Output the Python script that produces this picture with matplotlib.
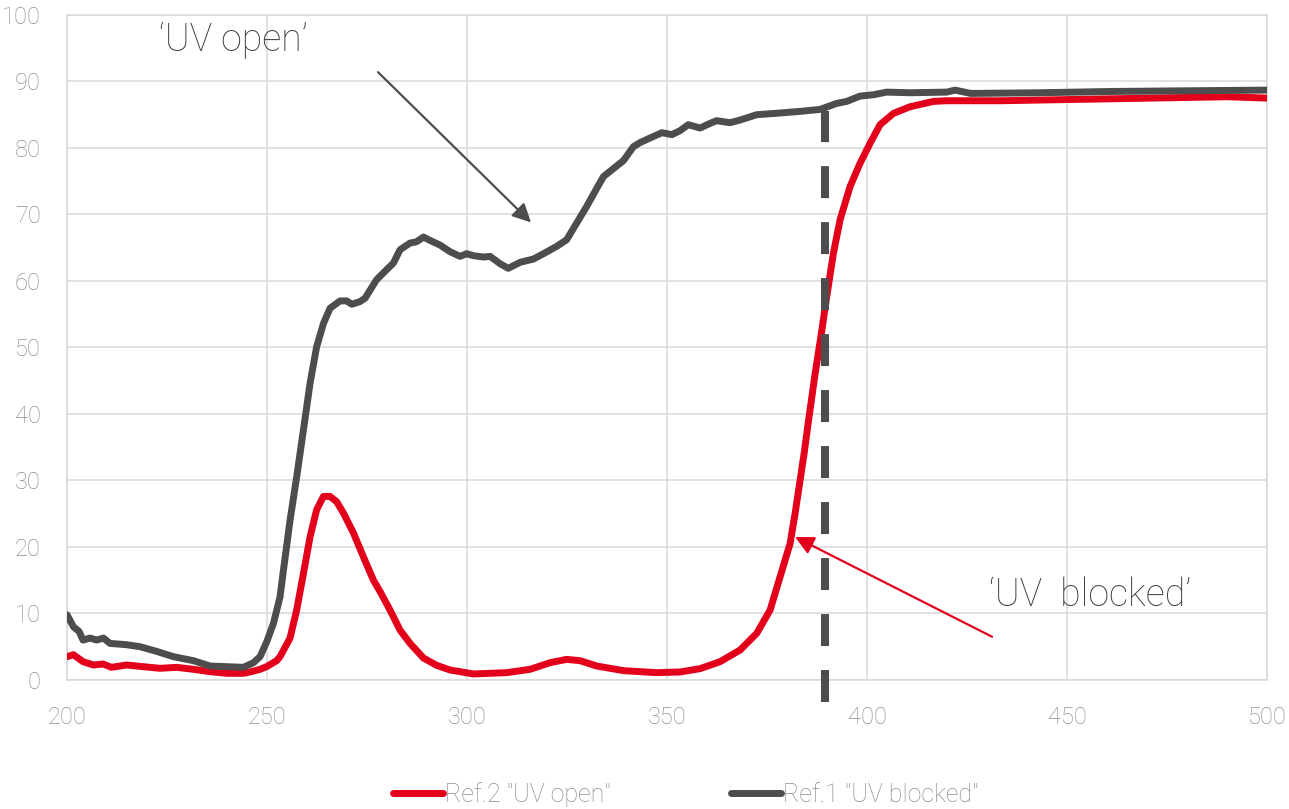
import matplotlib
matplotlib.use("Agg")
import matplotlib.pyplot as plt
from matplotlib.lines import Line2D

plt.rcParams['font.family'] = ['Roboto', 'DejaVu Sans']
plt.rcParams['font.weight'] = 'light'

RED = '#e3001b'
DARK = '#4d4d4d'
GRID = '#d9d9d9'
TICK = '#8f8f8f'

# Ref.1 "UV blocked" transmission (%) vs wavelength (nm)
wl_ref1 = [200, 201.6, 203, 204, 205.75, 207.4, 209.1, 210.75, 214.9, 218.25,
           222.4, 226.6, 231.6, 235.75, 239.9, 244.1, 246.6, 248.25, 249.9, 251.6,
           253.25, 254.1, 255.75, 257.4, 259.1, 260.75, 262.4, 264.1, 265.75, 268.25,
           269.9, 271.2, 273.25, 274.5, 277.4, 279.9, 281.6, 283.25, 285.75, 287.4,
           289.1, 290.75, 293.25, 295.75, 298.25, 299.9, 301.6, 304.1, 305.75, 308.25,
           310.3, 313.25, 316.6, 319.1, 322.4, 324.9, 327.4, 329.9, 332.4, 334.1,
           336.6, 339.1, 341.6, 343.25, 345.75, 348.7, 351.2, 353.25, 355.3, 358.25,
           360.75, 362.4, 365.75, 368.25, 372.4, 377, 383.25, 388.25, 392.4, 394.9,
           398.25, 401.6, 404.9, 410.75, 419.9, 422, 425.9, 442.75, 461.6, 480.4,
           500]
t_ref1 = [9.8, 8.0, 7.3, 6.0, 6.3, 6.0, 6.3, 5.5, 5.3, 5.0,
          4.3, 3.5, 2.9, 2.1, 2.0, 1.9, 2.6, 3.5, 5.7, 8.5,
          12.5, 16.5, 24.0, 30.5, 37.6, 44.6, 50.1, 53.6, 55.9, 57.0,
          57.0, 56.5, 56.9, 57.4, 60.2, 61.7, 62.7, 64.7, 65.7, 65.9,
          66.6, 66.1, 65.4, 64.4, 63.7, 64.1, 63.8, 63.6, 63.7, 62.6,
          61.9, 62.8, 63.3, 64.1, 65.2, 66.2, 68.7, 71.2, 73.9, 75.7,
          76.9, 78.1, 80.2, 80.8, 81.5, 82.3, 82.0, 82.6, 83.5, 83.0,
          83.7, 84.1, 83.8, 84.2, 85.0, 85.2, 85.5, 85.8, 86.7, 87.0,
          87.8, 88.0, 88.4, 88.3, 88.4, 88.7, 88.2, 88.3, 88.5, 88.6,
          88.7]

# Ref.2 "UV open" transmission (%) vs wavelength (nm)
wl_ref2 = [200, 201.6, 204, 206.6, 209, 211.1, 214.9, 219, 223.25, 227.4,
           231.6, 235.75, 239.9, 244.1, 245.75, 248.25, 249.9, 252.4, 253.25, 255.75,
           257.4, 259.1, 260.75, 262.4, 264.1, 265.75, 267.4, 269.1, 271.6, 274.1,
           276.6, 278.25, 280.75, 283.25, 285.75, 289.1, 292.4, 295.75, 301.6, 309.9,
           315.75, 320.75, 324.9, 328.25, 332.4, 339.1, 347.4, 353.25, 358.25, 363.25,
           368.25, 372.4, 375.75, 378, 380.75, 382, 383.25, 384.25, 385.25, 387,
           388.7, 389.9, 391.6, 393.25, 395.75, 398.25, 400.75, 403.25, 406.6, 410.75,
           416.6, 419.9, 433.4, 452, 471, 490, 500]
t_ref2 = [3.5, 3.8, 2.75, 2.25, 2.4, 1.9, 2.25, 2.0, 1.75, 1.9,
          1.6, 1.25, 1.0, 1.0, 1.2, 1.6, 2.0, 2.9, 3.5, 6.3,
          10.5, 16.0, 21.5, 25.6, 27.6, 27.6, 26.8, 25.1, 22.1, 18.5,
          15.0, 13.3, 10.5, 7.5, 5.5, 3.3, 2.2, 1.5, 0.9, 1.1,
          1.6, 2.6, 3.1, 2.9, 2.1, 1.4, 1.1, 1.2, 1.7, 2.75,
          4.5, 7.0, 10.5, 15.0, 20.5, 25.0, 30.0, 34.0, 38.5, 46.0,
          52.6, 57.6, 64.2, 69.2, 74.2, 77.7, 80.7, 83.5, 85.2, 86.2,
          87.0, 87.1, 87.1, 87.3, 87.5, 87.7, 87.5]

# cut-off marker
cutoff_wl = 389.5
cutoff_span = [-3.3, 85.6]

fig = plt.figure(figsize=(12.89, 8.09), dpi=100)
ax = fig.add_axes([0.052, 0.1595, 0.931, 0.822])

ax.plot(wl_ref2, t_ref2, color=RED, lw=5, solid_capstyle='round',
        solid_joinstyle='round', zorder=3)
ax.plot(wl_ref1, t_ref1, color=DARK, lw=5, solid_capstyle='round',
        solid_joinstyle='round', zorder=3)
ax.plot([cutoff_wl, cutoff_wl], cutoff_span, color=DARK, lw=5.8,
        linestyle=(0, (3.97, 2.98)), dash_capstyle='butt', clip_on=False, zorder=4)

ax.set_xlim(200, 500)
ax.set_ylim(0, 100)
ax.set_xticks(range(200, 501, 50))
ax.set_yticks(range(0, 101, 10))
ax.grid(True, color=GRID, lw=1.1)
ax.set_axisbelow(True)
for s in ax.spines.values():
    s.set_color(GRID)
    s.set_linewidth(1.1)
ax.tick_params(length=0, labelsize=17, labelcolor=TICK)
ax.tick_params(axis='y', pad=19)
ax.tick_params(axis='x', pad=19)

ax.text(241.5, 96.2, '\u2018UV open\u2019', fontsize=27, color='#404040',
        ha='center', va='center')
ax.annotate('', xy=(316, 68.8), xytext=(277.75, 91.4),
            arrowprops=dict(arrowstyle='-|>', color=DARK, lw=1.6,
                            mutation_scale=28, shrinkA=0, shrinkB=0))

ax.text(455.75, 12.8, '\u2018UV  blocked\u2019', fontsize=27, color='#404040',
        ha='center', va='center')
ax.annotate('', xy=(382, 21.5), xytext=(431.25, 6.5),
            arrowprops=dict(arrowstyle='-|>', color=RED, lw=1.6,
                            mutation_scale=28, shrinkA=0, shrinkB=0))

handles = [Line2D([], [], color=RED, lw=5, solid_capstyle='round'),
           Line2D([], [], color=DARK, lw=5, solid_capstyle='round')]
labels = ['Ref.2 "UV open"', 'Ref.1 "UV blocked"']
leg = fig.legend(handles, labels, loc='center', bbox_to_anchor=(0.532, 0.018),
                 ncol=2, frameon=False, fontsize=18, handlelength=2.0,
                 handletextpad=0.1, columnspacing=4.8)
for t in leg.get_texts():
    t.set_color('#8c8c8c')

fig.savefig('out.png', dpi=100)
